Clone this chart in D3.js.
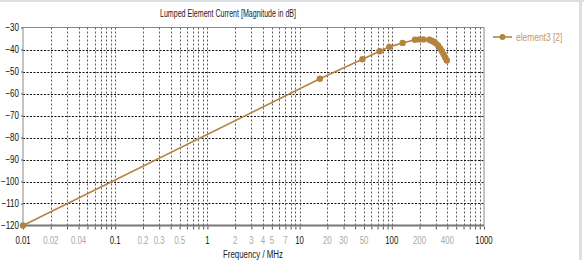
<!DOCTYPE html>
<html>
<head>
<meta charset="utf-8">
<script src="https://cdn.jsdelivr.net/npm/d3@7"></script>
<style>
  body { margin: 0; background: #fff; }
  svg { display: block; }
  text { font-family: "Liberation Sans", Arial, sans-serif; }
</style>
</head>
<body>
<div id="chart"></div>
<script>
// Dati
const freqMHz = [0.01, 16.6, 48, 74, 94, 131, 178, 199, 220, 255, 270, 285, 300, 318, 335, 350, 365, 380, 395];
const currentDb = [-120, -53.3, -44.4, -40.8, -38.8, -37.0, -35.6, -35.4, -35.4, -35.6, -36.0, -36.5, -37.2, -38.2, -39.5, -40.8, -42.2, -43.6, -45.0];

const decadeTicks = [0.01, 0.1, 1, 10, 100, 1000];
const minorLabelTicks = [0.02, 0.04, 0.2, 0.3, 0.5, 2, 3, 4, 5, 7, 20, 30, 50, 200, 400];
const yTicks = [-30, -40, -50, -60, -70, -80, -90, -100, -110, -120];

const seriesName = "element3 [2]";
const chartTitle = "Lumped Element Current [Magnitude in dB]";
const xTitle = "Frequency / MHz";

const W = 584, H = 260;
const traceColor = "#b5833f";

const svg = d3.select("#chart").append("svg")
    .attr("width", W)
    .attr("height", H);

// Helper: stringe il testo in orizzontale (font stretto come l'originale)
function condense(sel, factor) {
    sel.each(function() {
        const len = this.getComputedTextLength();
        d3.select(this)
            .attr("textLength", len * factor)
            .attr("lengthAdjust", "spacingAndGlyphs");
    });
}

// Cornice esterna del pannello
svg.append("line").attr("x1", 0).attr("x2", W).attr("y1", 1).attr("y2", 1)
    .attr("stroke", "#dde1e6").attr("stroke-width", 2);
svg.append("rect").attr("x", 579).attr("y", 0).attr("width", 3).attr("height", H)
    .attr("fill", "#dbe0e7");

const x = d3.scaleLog().domain([0.01, 1000]).range([23, 484]);
const y = d3.scaleLinear().domain([-120, -30]).range([225.5, 27.5]);

// tutte le posizioni minori (2..9 per decade)
const minorTicks = [];
decadeTicks.slice(0, -1).forEach(d => {
    for (let k = 2; k <= 9; k++) minorTicks.push(d * k);
});

// --- GRIGLIA ---
const grid = svg.append("g");
grid.selectAll("line.v")
    .data(minorTicks.concat(decadeTicks.slice(1, -1)))
    .join("line")
    .attr("class", "v")
    .attr("x1", d => Math.round(x(d)) + 0.5).attr("x2", d => Math.round(x(d)) + 0.5)
    .attr("y1", y(-30)).attr("y2", y(-120))
    .attr("stroke", "#333")
    .attr("stroke-width", 0.8)
    .attr("stroke-dasharray", "2,2");

grid.selectAll("line.h")
    .data(yTicks.slice(1, -1))
    .join("line")
    .attr("class", "h")
    .attr("x1", x(0.01)).attr("x2", x(1000))
    .attr("y1", d => Math.round(y(d)) + 0.5).attr("y2", d => Math.round(y(d)) + 0.5)
    .attr("stroke", "#111")
    .attr("stroke-width", 1)
    .attr("stroke-dasharray", "2,1.5");

// Bordo area grafico
svg.append("rect")
    .attr("x", x(0.01)).attr("y", y(-30))
    .attr("width", x(1000) - x(0.01)).attr("height", y(-120) - y(-30))
    .attr("fill", "none").attr("stroke", "#8a8a8a").attr("stroke-width", 1);
svg.append("line")
    .attr("x1", x(0.01)).attr("x2", x(1000)).attr("y1", y(-120)).attr("y2", y(-120))
    .attr("stroke", "#777").attr("stroke-width", 2);

// --- ASSI ---
const xAxis = svg.append("g")
    .attr("transform", `translate(0,${y(-120) + 1})`)
    .call(d3.axisBottom(x).tickValues(minorTicks.concat(decadeTicks)).tickSize(3).tickFormat(""));
xAxis.select(".domain").remove();
xAxis.selectAll("line").attr("stroke", "#555");

svg.append("g").selectAll("text")
    .data(decadeTicks.concat(minorLabelTicks))
    .join("text")
    .attr("x", d => x(d))
    .attr("y", 244)
    .attr("text-anchor", "middle")
    .attr("font-size", 10)
    .attr("fill", d => decadeTicks.includes(d) ? "#111" : "#a8a8a8")
    .text(d => String(d))
    .call(condense, 0.78);

const yAxis = svg.append("g")
    .attr("transform", `translate(${x(0.01)},0)`)
    .call(d3.axisLeft(y).tickValues(yTicks).tickSize(2).tickPadding(2));
yAxis.select(".domain").remove();
yAxis.selectAll("line").attr("stroke", "#555");
yAxis.selectAll("text")
    .attr("font-size", 10)
    .attr("fill", "#111")
    .style("font-family", "'Liberation Sans', Arial, sans-serif")
    .call(condense, 0.8);

// --- TITOLI ---
svg.append("text")
    .attr("x", 228).attr("y", 17)
    .attr("text-anchor", "middle")
    .attr("font-size", 10)
    .attr("fill", "#222")
    .text(chartTitle)
    .attr("textLength", 136)
    .attr("lengthAdjust", "spacingAndGlyphs");

svg.append("text")
    .attr("x", 253).attr("y", 258)
    .attr("text-anchor", "middle")
    .attr("font-size", 10)
    .attr("fill", "#222")
    .text(xTitle)
    .attr("textLength", 60)
    .attr("lengthAdjust", "spacingAndGlyphs");

// --- TRACCIA ---
const pts = freqMHz.map((f, i) => ({ f: f, v: currentDb[i] }));
const line = d3.line().x(d => x(d.f)).y(d => y(d.v));

svg.append("path")
    .datum(pts)
    .attr("d", line)
    .attr("fill", "none")
    .attr("stroke", traceColor)
    .attr("stroke-width", 1.6);

svg.append("g").selectAll("circle")
    .data(pts)
    .join("circle")
    .attr("cx", d => x(d.f))
    .attr("cy", d => y(d.v))
    .attr("r", 3.2)
    .attr("fill", traceColor);

// --- LEGENDA ---
const legend = svg.append("g").attr("transform", "translate(493,37)");
legend.append("line").attr("x1", 0).attr("x2", 19).attr("y1", 0).attr("y2", 0)
    .attr("stroke", traceColor).attr("stroke-width", 1.6);
legend.append("circle").attr("cx", 9.5).attr("cy", 0).attr("r", 3).attr("fill", traceColor);
legend.append("text")
    .attr("x", 23).attr("y", 3.5)
    .attr("font-size", 10.5)
    .attr("fill", "#c09a6a")
    .text(seriesName)
    .call(condense, 0.8);
</script>
</body>
</html>
